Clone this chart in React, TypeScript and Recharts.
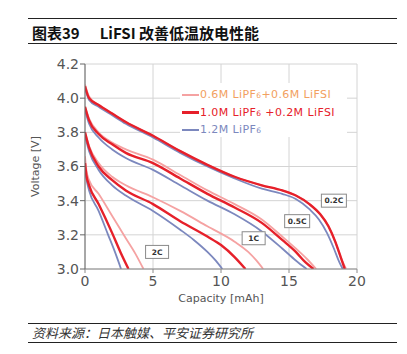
import React from 'react';
import { LineChart, Line, XAxis, YAxis, CartesianGrid, ReferenceDot, Legend } from 'recharts';

// [capacity mAh, voltage V]
const c02_mix06: number[][] = [[0,4.08],[0.3,4.01],[1,3.96],[2,3.91],[3,3.86],[5,3.78],[7,3.69],[9,3.61],[11,3.54],[13,3.49],[14.5,3.46],[15.5,3.43],[16.5,3.38],[17.3,3.32],[17.9,3.25],[18.4,3.16],[18.8,3.07],[19.2,3.0]];
const c02_mix02: number[][] = [[0,4.07],[0.3,4.00],[1,3.96],[2,3.91],[3,3.86],[5,3.78],[7,3.69],[9,3.61],[11,3.54],[13,3.49],[14.5,3.46],[15.5,3.43],[16.5,3.38],[17.3,3.32],[17.9,3.25],[18.4,3.16],[18.8,3.07],[19.1,3.0]];
const c02_pf6: number[][] = [[0,4.06],[0.3,3.99],[1,3.95],[2,3.90],[3,3.85],[5,3.77],[7,3.68],[9,3.60],[11,3.53],[13,3.47],[14.5,3.44],[15.5,3.41],[16.5,3.35],[17.2,3.29],[17.8,3.21],[18.3,3.12],[18.7,3.04],[18.95,3.0]];

const c05_mix06: number[][] = [[0,3.95],[0.3,3.88],[1,3.80],[2,3.74],[3,3.70],[5,3.64],[7,3.55],[9,3.46],[11,3.38],[13,3.29],[14.5,3.19],[15.5,3.12],[16.3,3.06],[17.0,3.0]];
const c05_mix02: number[][] = [[0,3.95],[0.3,3.87],[1,3.79],[2,3.73],[3,3.68],[5,3.62],[7,3.53],[9,3.44],[11,3.36],[13,3.27],[14.5,3.17],[15.5,3.10],[16.2,3.04],[16.8,3.0]];
const c05_pf6: number[][] = [[0,3.93],[0.3,3.85],[1,3.77],[2,3.70],[3,3.65],[5,3.58],[7,3.49],[9,3.40],[11,3.32],[13,3.22],[14.5,3.12],[15.5,3.05],[16.3,3.0]];

const c1_mix06: number[][] = [[0,3.80],[0.3,3.72],[1,3.62],[2,3.54],[3,3.49],[5,3.42],[7,3.34],[9,3.25],[11,3.16],[12,3.10],[12.6,3.05],[13.1,3.0]];
const c1_mix02: number[][] = [[0,3.80],[0.3,3.71],[1,3.60],[2,3.52],[3,3.46],[5,3.38],[7,3.28],[9,3.19],[10,3.14],[11,3.07],[11.8,3.0]];
const c1_pf6: number[][] = [[0,3.78],[0.3,3.69],[1,3.58],[2,3.49],[3,3.43],[5,3.34],[7,3.23],[8,3.17],[9,3.10],[9.6,3.05],[10.1,3.0]];

const c2_mix06: number[][] = [[0,3.66],[0.1,3.58],[0.3,3.52],[1,3.44],[2,3.31],[3,3.18],[3.7,3.09],[4.3,3.0]];
const c2_mix02: number[][] = [[0,3.62],[0.1,3.55],[0.3,3.49],[1,3.38],[2,3.21],[2.6,3.10],[3.2,3.0]];
const c2_pf6: number[][] = [[0,3.60],[0.1,3.53],[0.3,3.46],[1,3.34],[1.7,3.20],[2.2,3.10],[2.65,3.0]];

const rateLabels = ['0.2C', '0.5C', '1C', '2C'];
const rateLabelX = [18.3, 15.6, 12.4, 5.3];
const rateLabelY = [3.40, 3.28, 3.18, 3.10];

const seriesNames = ['0.6M LiPF6+0.6M LiFSI', '1.0M LiPF6 +0.2M LiFSI', '1.2M LiPF6'];
const xTicks = [0, 5, 10, 15, 20];
const yTicks = [3.0, 3.2, 3.4, 3.6, 3.8, 4.0, 4.2];

const PINK = '#f5a2a2';
const RED = '#e6202a';
const BLUE = '#7c88be';
const LEGEND_TEXT = ['#f2a060', '#e6202a', '#7c88be'];
const LEGEND_LINE = [PINK, RED, BLUE];

const toPts = (a: number[][]) => a.map(([x, y]) => ({ x, y }));

const groups = [
  { id: '02', s: [c02_pf6, c02_mix06, c02_mix02] },
  { id: '05', s: [c05_pf6, c05_mix06, c05_mix02] },
  { id: '1', s: [c1_pf6, c1_mix06, c1_mix02] },
  { id: '2', s: [c2_pf6, c2_mix06, c2_mix02] },
];
const groupColors = [BLUE, PINK, RED];
const groupWidths = [1.8, 1.8, 2.4];

const FONT = '"DejaVu Sans", Verdana, sans-serif';

const LabelBox = (props: any) => {
  const { cx, cy, text } = props;
  const w = text.length > 2 ? 25 : 23;
  const h = 13;
  return (
    <g>
      <rect x={cx - w / 2} y={cy - h / 2} width={w} height={h} fill="#fff" stroke="#8a8a8a" strokeWidth={1} />
      <text x={cx} y={cy + 2.7} textAnchor="middle" fontSize={7.5} fontWeight="bold" fill="#333" fontFamily={FONT}>{text}</text>
    </g>
  );
};

const LegendContent = () => (
  <div style={{ background: '#fff', width: 167, height: 54, paddingTop: 3, boxSizing: 'border-box', fontFamily: FONT }}>
    {seriesNames.map((n, i) => (
      <div key={n} style={{ display: 'flex', alignItems: 'center', height: 17.5 }}>
        <span style={{ display: 'inline-block', width: 17, height: i === 1 ? 2.5 : 2, background: LEGEND_LINE[i], marginLeft: 2, marginRight: 1 }} />
        <span style={{ fontSize: 11, color: LEGEND_TEXT[i], whiteSpace: 'nowrap', letterSpacing: 0.4 }}>
          {n.split('LiPF6').map((p, k, arr) => (
            <React.Fragment key={k}>
              {p}
              {k < arr.length - 1 ? <>LiPF<span style={{ fontSize: 7.5 }}>6</span></> : null}
            </React.Fragment>
          ))}
        </span>
      </div>
    ))}
  </div>
);

export default function App() {
  return (
    <div style={{ position: 'absolute', left: 0, top: 0, width: 407, height: 354, background: '#fff', overflow: 'hidden' }}>
      <div style={{ position: 'absolute', left: 28, top: 18, width: 369, height: 0, borderTop: '1.6px solid #222' }} />
      <div style={{ position: 'absolute', left: 32, top: 23, fontFamily: '"Noto Sans CJK SC", sans-serif', fontWeight: 'bold', fontSize: 15, color: '#111', lineHeight: '19px', whiteSpace: 'nowrap' }}>
        图表39<span style={{ display: 'inline-block', width: 20 }} />LiFSI 改善低温放电性能
      </div>
      <div style={{ position: 'absolute', left: 28, top: 43, width: 369, height: 0, borderTop: '1px solid #222' }} />

      <div style={{ position: 'absolute', left: 0, top: 0 }}>
        <LineChart width={407} height={354} margin={{ top: 64, right: 50, bottom: 52, left: 35 }}>
          <CartesianGrid stroke="#d4d4d4" strokeWidth={1} />
          <XAxis
            type="number"
            dataKey="x"
            domain={[0, 20]}
            ticks={xTicks}
            allowDataOverflow
            height={33}
            tickSize={4}
            tickMargin={3}
            stroke="#8a8a8a"
            tick={{ fill: '#555', fontSize: 14, fontFamily: FONT }}
            label={{ value: 'Capacity [mAh]', position: 'insideBottom', offset: 0, fill: '#555', fontSize: 11, fontFamily: FONT }}
          />
          <YAxis
            type="number"
            dataKey="y"
            domain={[3.0, 4.2]}
            ticks={yTicks}
            allowDataOverflow
            width={50}
            tickSize={5}
            tickMargin={1}
            stroke="#666"
            tickFormatter={(v: number) => v.toFixed(1)}
            tick={{ fill: '#555', fontSize: 14, fontFamily: FONT }}
            label={{ value: 'Voltage [V]', angle: -90, position: 'insideLeft', offset: 0, fill: '#555', fontSize: 11, fontFamily: FONT, style: { textAnchor: 'middle' } }}
          />
          <Legend
            layout="vertical"
            align="center"
            verticalAlign="middle"
            content={<LegendContent />}
            wrapperStyle={{ position: 'absolute', left: 180, top: 83, width: 167, height: 54, margin: 0 }}
          />
          {groups.map((g) =>
            g.s.map((d, i) => (
              <Line
                key={g.id + '-' + i}
                data={toPts(d)}
                dataKey="y"
                type="monotone"
                stroke={groupColors[i]}
                strokeWidth={groupWidths[i]}
                dot={false}
                activeDot={false}
                isAnimationActive={false}
                legendType="none"
              />
            ))
          )}
          {rateLabels.map((t, i) => (
            <ReferenceDot key={t} x={rateLabelX[i]} y={rateLabelY[i]} ifOverflow="visible" shape={(p: any) => <LabelBox {...p} text={t} />} />
          ))}
        </LineChart>
      </div>

      <div style={{ position: 'absolute', left: 28, top: 323, width: 369, height: 0, borderTop: '1.4px solid #222' }} />
      <div style={{ position: 'absolute', left: 32, top: 325, fontFamily: '"Noto Sans CJK SC", sans-serif', fontStyle: 'italic', fontSize: 13, color: '#333', lineHeight: '16px', whiteSpace: 'nowrap' }}>
        资料来源：日本触媒、平安证券研究所
      </div>
      <div style={{ position: 'absolute', left: 28, top: 342, width: 369, height: 0, borderTop: '1.4px solid #222' }} />
    </div>
  );
}
